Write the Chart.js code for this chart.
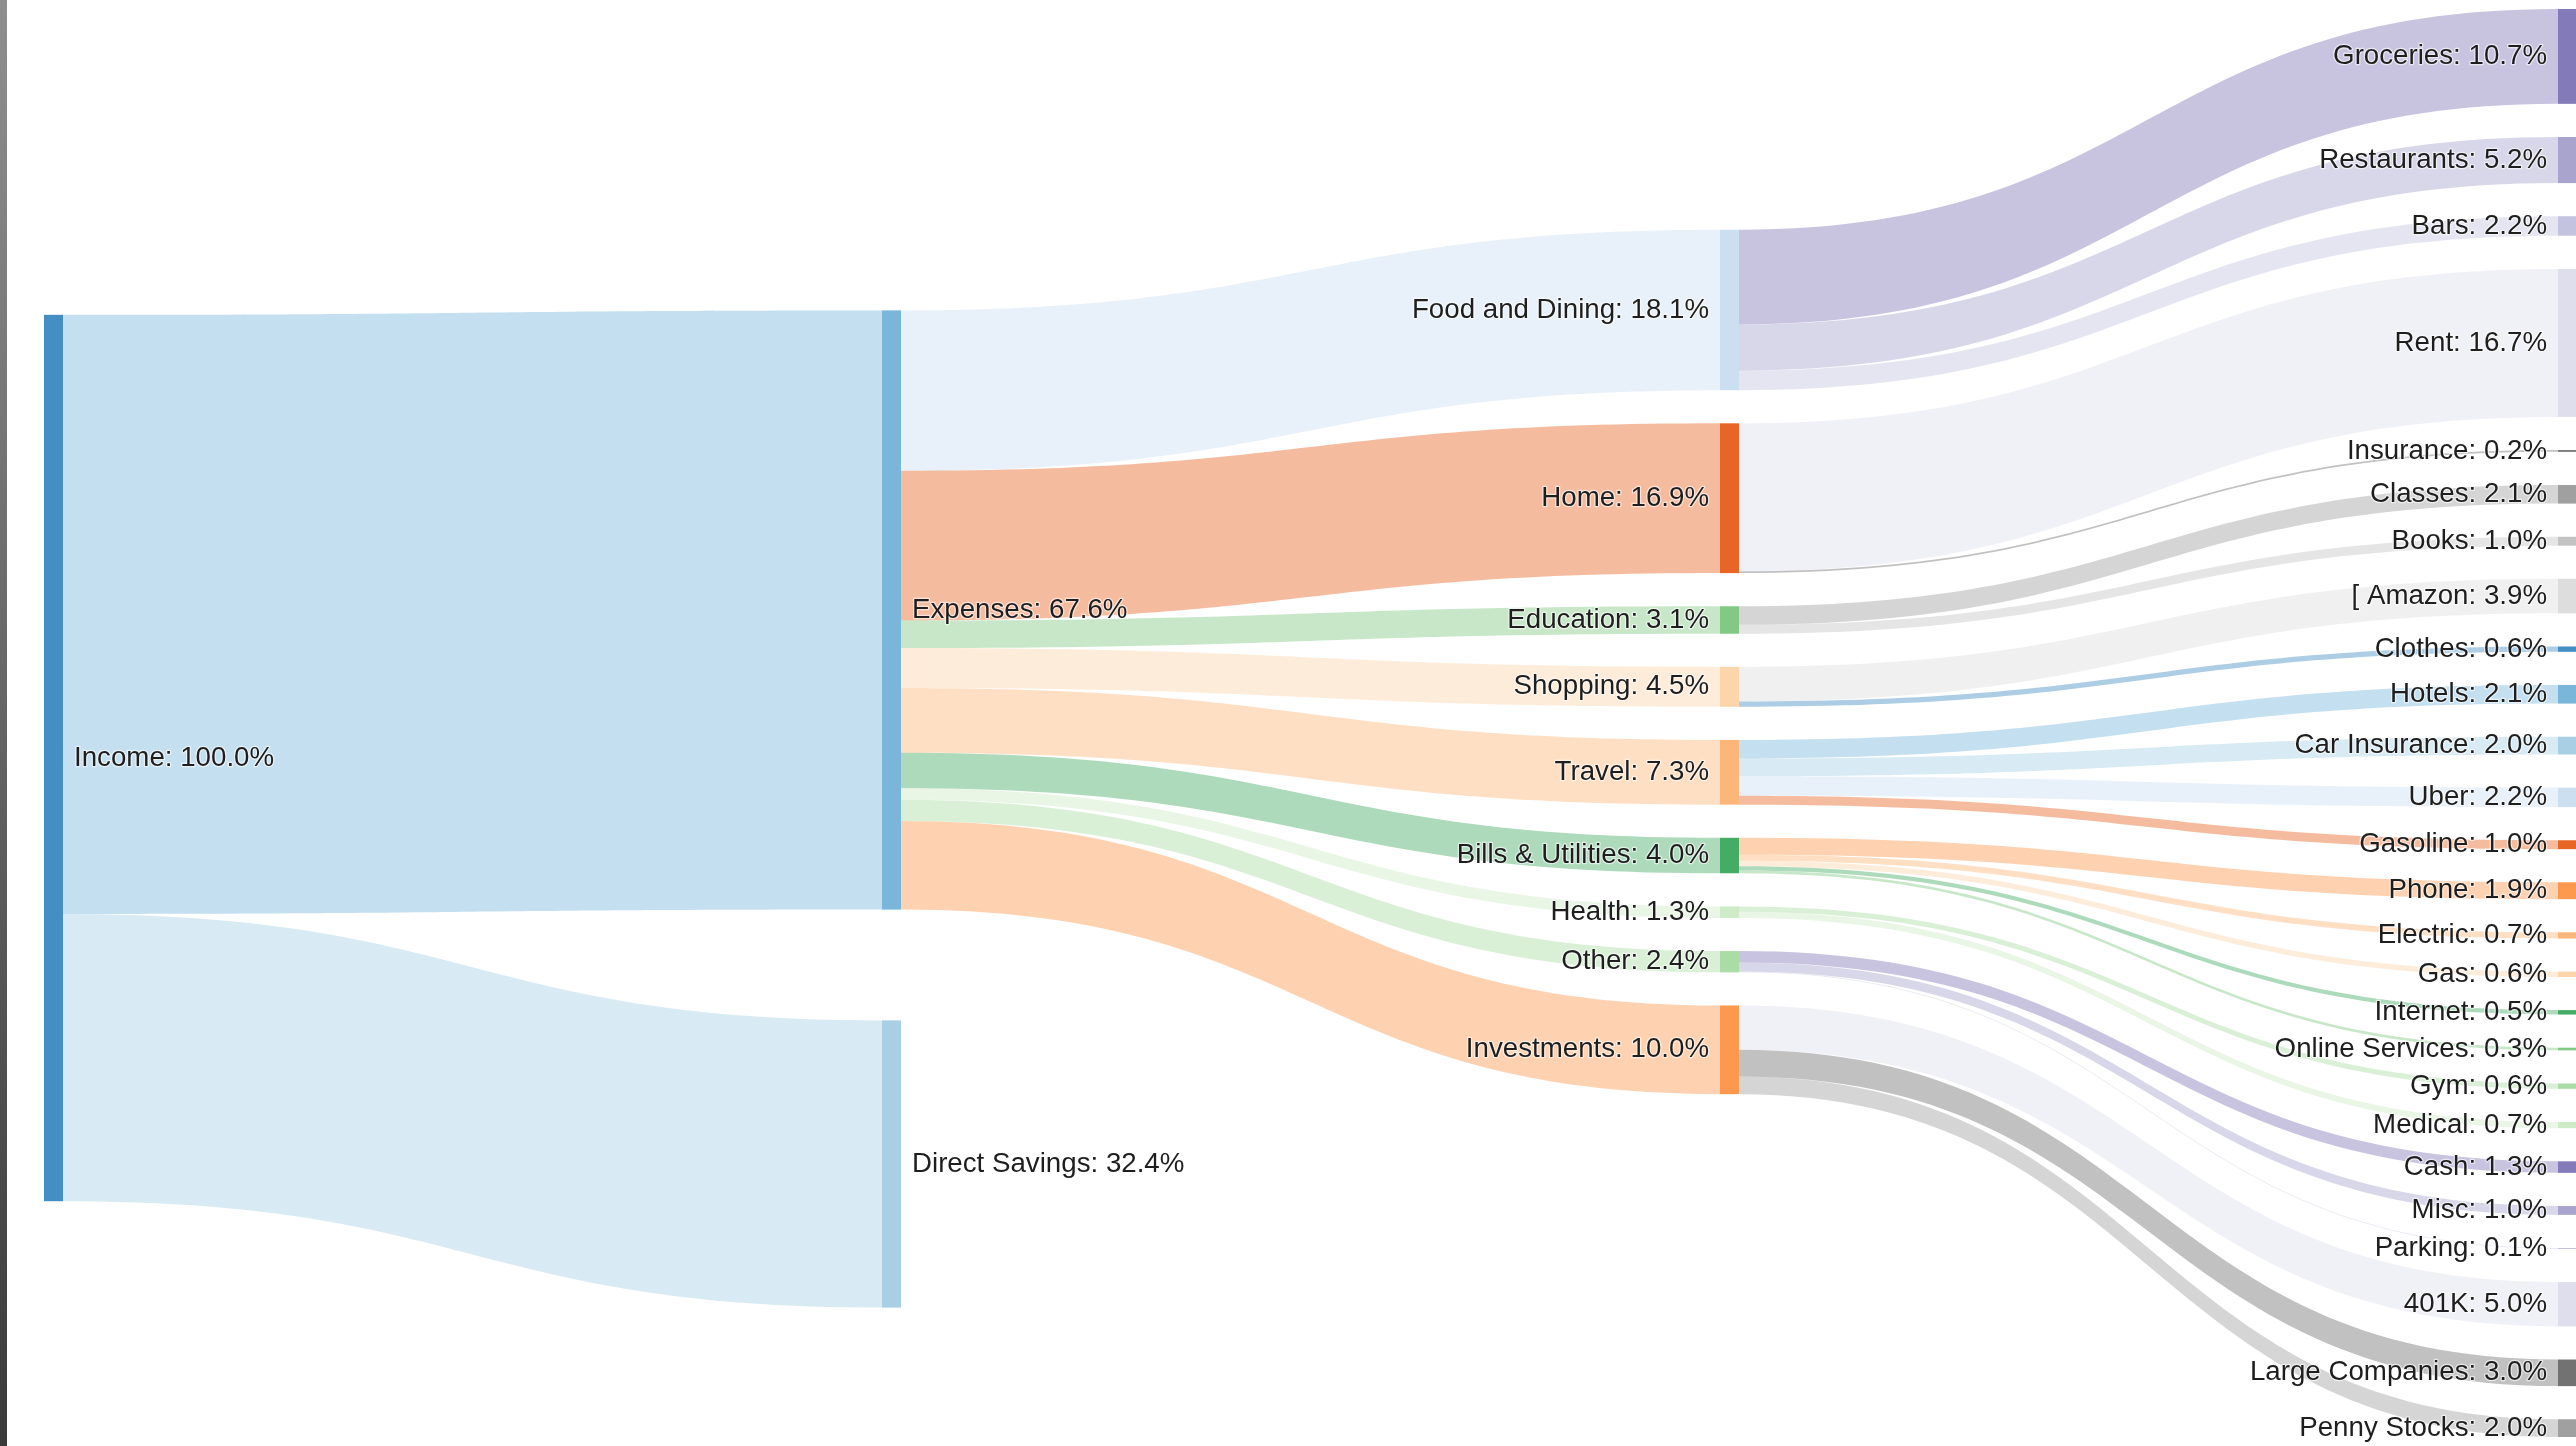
<!DOCTYPE html>
<html>
<head>
<meta charset="utf-8">
<title>Income flow</title>
<script src="https://cdn.jsdelivr.net/npm/chart.js@4.4.1/dist/chart.umd.min.js"></script>
<style>
  html, body { margin: 0; padding: 0; background: #fff; overflow: hidden; }
  #wrap { position: relative; width: 2576px; height: 1446px; }
  #edge { position: absolute; left: 0; top: 0; width: 7px; height: 1446px; background: linear-gradient(#8e8e8e, #3a3a3a); }
</style>
</head>
<body>
<div id="wrap"><canvas id="sankey"></canvas><div id="edge"></div></div>
<script>
// nodes, top to bottom inside each column
var nodeNames = [
    'Income',
    'Expenses', 'Direct Savings',
    'Food and Dining', 'Home', 'Education', 'Shopping', 'Travel', 'Bills & Utilities', 'Health', 'Other', 'Investments',
    'Groceries', 'Restaurants', 'Bars', 'Rent', 'Insurance', 'Classes', 'Books', '[ Amazon', 'Clothes',
    'Hotels', 'Car Insurance', 'Uber', 'Gasoline', 'Phone', 'Electric', 'Gas', 'Internet', 'Online Services',
    'Gym', 'Medical', 'Cash', 'Misc', 'Parking', '401K', 'Large Companies', 'Penny Stocks'
];

// flows, % of income
var linkFrom = [
    'Income', 'Income',
    'Expenses', 'Expenses', 'Expenses', 'Expenses', 'Expenses', 'Expenses', 'Expenses', 'Expenses', 'Expenses',
    'Food and Dining', 'Food and Dining', 'Food and Dining',
    'Home', 'Home',
    'Education', 'Education',
    'Shopping', 'Shopping',
    'Travel', 'Travel', 'Travel', 'Travel',
    'Bills & Utilities', 'Bills & Utilities', 'Bills & Utilities', 'Bills & Utilities', 'Bills & Utilities',
    'Health', 'Health',
    'Other', 'Other', 'Other',
    'Investments', 'Investments', 'Investments'
];
var linkTo = [
    'Expenses', 'Direct Savings',
    'Food and Dining', 'Home', 'Education', 'Shopping', 'Travel', 'Bills & Utilities', 'Health', 'Other', 'Investments',
    'Groceries', 'Restaurants', 'Bars',
    'Rent', 'Insurance',
    'Classes', 'Books',
    '[ Amazon', 'Clothes',
    'Hotels', 'Car Insurance', 'Uber', 'Gasoline',
    'Phone', 'Electric', 'Gas', 'Internet', 'Online Services',
    'Gym', 'Medical',
    'Cash', 'Misc', 'Parking',
    '401K', 'Large Companies', 'Penny Stocks'
];
var linkValues = [
    67.6, 32.4,
    18.1, 16.9, 3.1, 4.5, 7.3, 4.0, 1.3, 2.4, 10.0,
    10.7, 5.2, 2.2,
    16.7, 0.2,
    2.1, 1.0,
    3.9, 0.6,
    2.1, 2.0, 2.2, 1.0,
    1.9, 0.7, 0.6, 0.5, 0.3,
    0.6, 0.7,
    1.3, 1.0, 0.1,
    5.0, 3.0, 2.0
];

// category20c colours per node; flows take the target colour
var nodeColors = [
    '#3182bd',
    '#6baed6', '#9ecae1',
    '#c6dbef', '#e6550d', '#74c476', '#fdd0a2', '#fdae6b', '#31a354', '#c7e9c0', '#a1d99b', '#fd8d3c',
    '#756bb1', '#9e9ac8', '#bcbddc', '#dadaeb', '#636363', '#969696', '#bdbdbd', '#d9d9d9', '#3182bd',
    '#6baed6', '#9ecae1', '#c6dbef', '#e6550d', '#fd8d3c', '#fdae6b', '#fdd0a2', '#31a354', '#74c476',
    '#a1d99b', '#c7e9c0', '#756bb1', '#9e9ac8', '#bcbddc', '#dadaeb', '#636363', '#969696'
];
var nodeOpacity = 0.9;
var linkOpacity = 0.4;

// stacking of each column, in % units on the y scale
var columnTop = [34.5, 34.0, 24.9, 0];
var columnGap = [3.74, 12.5, 3.74, 3.74];
var nodeWidth = 19;      // px

function total(list) {
    return list.reduce(function (s, l) { return s + l.value; }, 0);
}

function buildSankey() {
    var nodes = nodeNames.map(function (name, i) {
        return { name: name, color: nodeColors[i], sourceLinks: [], targetLinks: [] };
    });
    var byName = {};
    nodes.forEach(function (n) { byName[n.name] = n; });
    var links = linkValues.map(function (v, i) {
        var l = { source: byName[linkFrom[i]], target: byName[linkTo[i]], value: v };
        l.source.sourceLinks.push(l);
        l.target.targetLinks.push(l);
        return l;
    });
    nodes.forEach(function (n) {
        n.value = Math.max(total(n.sourceLinks), total(n.targetLinks));
    });

    // column = longest path from the source
    var remaining = nodes, depth = 0;
    while (remaining.length) {
        var next = [];
        remaining.forEach(function (n) {
            n.col = depth;
            n.sourceLinks.forEach(function (l) {
                if (next.indexOf(l.target) < 0) next.push(l.target);
            });
        });
        remaining = next;
        depth++;
    }
    var columns = [];
    nodes.forEach(function (n) { (columns[n.col] = columns[n.col] || []).push(n); });

    var extent = 0;
    columns.forEach(function (c, ci) {
        var y = columnTop[ci];
        c.forEach(function (n) {
            n.y0 = y;
            n.y1 = y + n.value;
            y = n.y1 + columnGap[ci];
        });
        extent = Math.max(extent, y - columnGap[ci]);
    });

    nodes.forEach(function (n) {
        var sy = n.y0, ty = n.y0;
        n.sourceLinks.forEach(function (l) { l.sy = sy; sy += l.value; });
        n.targetLinks.forEach(function (l) { l.ty = ty; ty += l.value; });
    });

    return { nodes: nodes, links: links, cols: columns.length, extent: extent };
}

function withAlpha(hex, a) {
    var r = parseInt(hex.substr(1, 2), 16), g = parseInt(hex.substr(3, 2), 16), b = parseInt(hex.substr(5, 2), 16);
    return 'rgba(' + r + ',' + g + ',' + b + ',' + a + ')';
}

var sankey = buildSankey();

var sankeyPlugin = {
    id: 'sankeyDraw',
    afterDatasetsDraw: function (chart) {
        var ctx = chart.ctx;
        var xs = chart.scales.x, ys = chart.scales.y;
        ctx.save();

        sankey.links.forEach(function (l) {
            var x0 = xs.getPixelForValue(l.source.col) + nodeWidth;
            var x1 = xs.getPixelForValue(l.target.col);
            var xm = (x0 + x1) / 2;
            var s0 = ys.getPixelForValue(l.sy), s1 = ys.getPixelForValue(l.sy + l.value);
            var t0 = ys.getPixelForValue(l.ty), t1 = ys.getPixelForValue(l.ty + l.value);
            ctx.beginPath();
            ctx.moveTo(x0, s0);
            ctx.bezierCurveTo(xm, s0, xm, t0, x1, t0);
            ctx.lineTo(x1, t1);
            ctx.bezierCurveTo(xm, t1, xm, s1, x0, s1);
            ctx.closePath();
            ctx.fillStyle = withAlpha(l.target.color, linkOpacity);
            ctx.fill();
        });

        sankey.nodes.forEach(function (n) {
            var x = xs.getPixelForValue(n.col);
            var top = ys.getPixelForValue(n.y0), bottom = ys.getPixelForValue(n.y1);
            ctx.fillStyle = withAlpha(n.color, nodeOpacity);
            ctx.fillRect(x, top, nodeWidth, Math.max(bottom - top, 1));
        });

        ctx.font = '27.7px "Liberation Sans", Arial, sans-serif';
        ctx.textBaseline = 'middle';
        ctx.lineJoin = 'round';
        sankey.nodes.forEach(function (n) {
            var x = xs.getPixelForValue(n.col);
            var y = ys.getPixelForValue((n.y0 + n.y1) / 2);
            var text = n.name + ': ' + n.value.toFixed(1) + '%';
            var tx;
            if (n.col < 2) {
                ctx.textAlign = 'left';
                tx = x + nodeWidth + 11;
            } else {
                ctx.textAlign = 'right';
                tx = x - 11;
            }
            ctx.strokeStyle = 'rgba(255,255,255,0.6)';
            ctx.lineWidth = 2.5;
            ctx.strokeText(text, tx, y);
            ctx.fillStyle = '#1e1e1e';
            ctx.fillText(text, tx, y);
        });
        ctx.restore();
    }
};

new Chart(document.getElementById('sankey'), {
    type: 'scatter',
    data: { datasets: [{ data: [] }] },
    options: {
        responsive: true,
        maintainAspectRatio: false,
        animation: false,
        layout: { padding: { left: 44, right: 18, top: 9, bottom: 9 } },
        plugins: { legend: { display: false }, tooltip: { enabled: false } },
        scales: {
            x: { type: 'linear', min: 0, max: sankey.cols - 1, display: false },
            y: { type: 'linear', min: 0, max: sankey.extent, reverse: true, display: false }
        }
    },
    plugins: [sankeyPlugin]
});
</script>
</body>
</html>
